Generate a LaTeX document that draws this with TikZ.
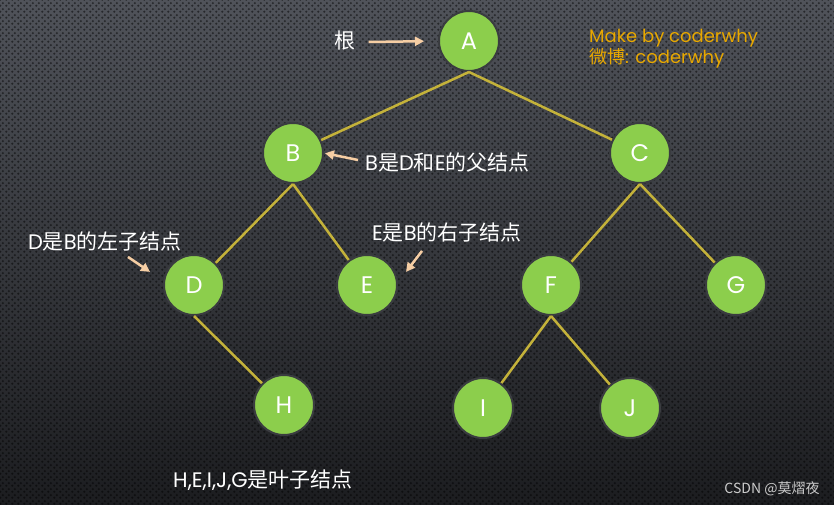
\documentclass[tikz,border=0pt]{standalone}
\usepackage{fontspec}
\setmainfont{Poppins}
\newfontfamily\cjk{Noto Sans CJK SC}
\usetikzlibrary{arrows.meta, positioning, calc, patterns}

\definecolor{nodegreen}{RGB}{140,206,76}
\definecolor{nodering}{RGB}{58,60,64}
\definecolor{edgegold}{RGB}{196,178,58}
\definecolor{notepeach}{RGB}{246,206,164}
\definecolor{signorange}{RGB}{232,168,0}
\definecolor{bgtop}{RGB}{80,83,90}
\definecolor{bgmid}{RGB}{54,56,61}
\definecolor{bgbot}{RGB}{28,29,32}

% staggered dots of the carbon background
\pgfdeclarepatternformonly{bgdots}{\pgfqpoint{0pt}{0pt}}{\pgfqpoint{6pt}{6pt}}{\pgfqpoint{6pt}{6pt}}{%
  \pgfpathcircle{\pgfqpoint{1.5pt}{1.5pt}}{1.4pt}%
  \pgfpathcircle{\pgfqpoint{4.5pt}{4.5pt}}{1.4pt}%
  \pgfusepath{fill}}

\begin{document}
\begin{tikzpicture}[x=1pt, y=-1pt,
    tnode/.style={circle, draw=nodering, line width=2pt, fill=nodegreen, minimum size=60pt, inner sep=0pt, text=white, font=\fontsize{24}{28}\selectfont},
    edge/.style={edgegold, line width=2.5pt},
    note/.style={text=white, font=\fontsize{21}{25}\selectfont, inner sep=2pt},
    arr/.style={-{Triangle[length=9pt, width=9pt]}, notepeach, line width=2.5pt}
]
    % Background
    \useasboundingbox (0,0) rectangle (834,505);
    \shade[top color=bgtop, middle color=bgmid, bottom color=bgbot] (0,0) rectangle (834,505);
    \fill[pattern=bgdots, pattern color=black, opacity=0.5] (0,0) rectangle (834,505);

    % Tree nodes
    \node[tnode] (A) at (469,41)  {A};
    \node[tnode] (B) at (293,153) {B};
    \node[tnode] (C) at (640,153) {C};
    \node[tnode] (D) at (194,285) {D};
    \node[tnode] (E) at (367,285) {E};
    \node[tnode] (F) at (551,285) {F};
    \node[tnode] (G) at (736,285) {G};
    \node[tnode] (H) at (284,405) {H};
    \node[tnode] (I) at (483,408) {I};
    \node[tnode] (J) at (630,408) {J};

    % Edges
    \draw[edge] (A.south) -- (B);
    \draw[edge] (A.south) -- (C);
    \draw[edge] (B.south) -- (D);
    \draw[edge] (B.south) -- (E);
    \draw[edge] (C.south) -- (F);
    \draw[edge] (C.south) -- (G);
    \draw[edge] (D.south) -- (H);
    \draw[edge] (F.south) -- (I);
    \draw[edge] (F.south) -- (J);

    % Notes
    \node[note] (rootnote) at (345,41) {\cjk 根};
    \draw[arr, shorten >=14pt] (rootnote.east) ++(11,1) -- (A.west);

    \node[note, anchor=west] (parentnote) at (363,163) {B{\cjk 是}D{\cjk 和}E{\cjk 的父结点}};
    \draw[arr, shorten >=1pt] (parentnote.west) ++(-5,-3) -- (B.east);

    \node[note] (leftnote) at (105,241) {D{\cjk 是}B{\cjk 的左子结点}};
    \draw[arr] (leftnote.south) ++(23,4) -- ++(22,15);

    \node[note] (rightnote) at (447,232) {E{\cjk 是}B{\cjk 的右子结点}};
    \draw[arr] (rightnote.south) ++(-25,7) -- ++(-16,21);

    \node[note] (leafnote) at (263,480) {H,E,I,J,G{\cjk 是叶子结点}};

    % Signature
    \node[anchor=west, text=signorange, font=\fontsize{18}{21}\selectfont, align=left, inner sep=0pt] (sign) at (589,49) {Make by coderwhy\\{\cjk 微博}: coderwhy};
    \node[text=black!20, font=\cjk\fontsize{14}{16}\selectfont, inner sep=0pt] (csdn) at (772,489) {CSDN @莫熠夜};
\end{tikzpicture}
\end{document}
